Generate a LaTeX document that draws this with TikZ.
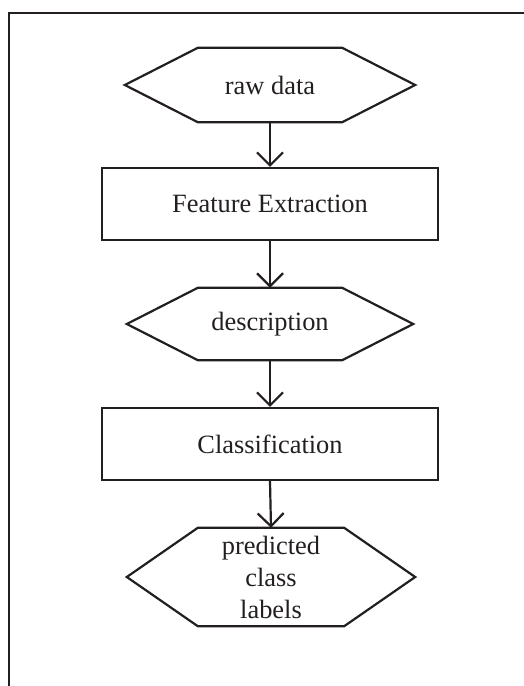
\documentclass[tikz,border=0pt]{standalone}
\usepackage{fontspec}
\setmainfont{Liberation Serif}
\usetikzlibrary{arrows.meta,calc}
\definecolor{ink}{RGB}{35,31,32}
\newcommand\hexoutline[2]{%
  \draw[shapeline] (#1.west) -- ($(#1.north west)+(#2,0)$) -- ($(#1.north east)+(-#2,0)$)
    -- (#1.east) -- ($(#1.south east)+(-#2,0)$) -- ($(#1.south west)+(#2,0)$) -- cycle;}
\begin{document}
\begin{tikzpicture}[x=1pt,y=-1pt,
  shapeline/.style={draw=ink,line width=2.2pt,line join=miter},
  txt/.style={font=\fontsize{26.4}{32}\selectfont,text=ink,inner sep=0pt,align=center},
  hexnode/.style={txt},
  rectbox/.style={txt,shapeline,draw=ink},
  flow/.style={draw=ink,line width=2.2pt,-{Straight Barb[length=13pt,width=26pt,line width=2.2pt]}}]
\useasboundingbox (0,0) rectangle (524,686);
\draw[draw=ink,line width=2.2pt] (9,686) -- (9,13) -- (524,13);
\node[hexnode,minimum width=290pt,minimum height=74pt] (raw) at (270,85) {raw data};
\hexoutline{raw}{73}
\node[rectbox,minimum width=336pt,minimum height=72pt] (feat) at (270,204) {Feature Extraction};
\node[hexnode,minimum width=286pt,minimum height=72pt] (desc) at (270,324) {description};
\hexoutline{desc}{71}
\node[rectbox,minimum width=336pt,minimum height=72pt] (cls) at (270,444) {Classification};
\node[hexnode,minimum width=288pt,minimum height=98pt] (pred) at (271,577) {predicted\\class\\labels};
\hexoutline{pred}{71}
\draw[flow] (raw.south) -- (feat.north);
\draw[flow] (feat.south) -- (desc.north);
\draw[flow] (desc.south) -- (cls.north);
\draw[flow] (cls.south) -- (pred.north);
\end{tikzpicture}
\end{document}
